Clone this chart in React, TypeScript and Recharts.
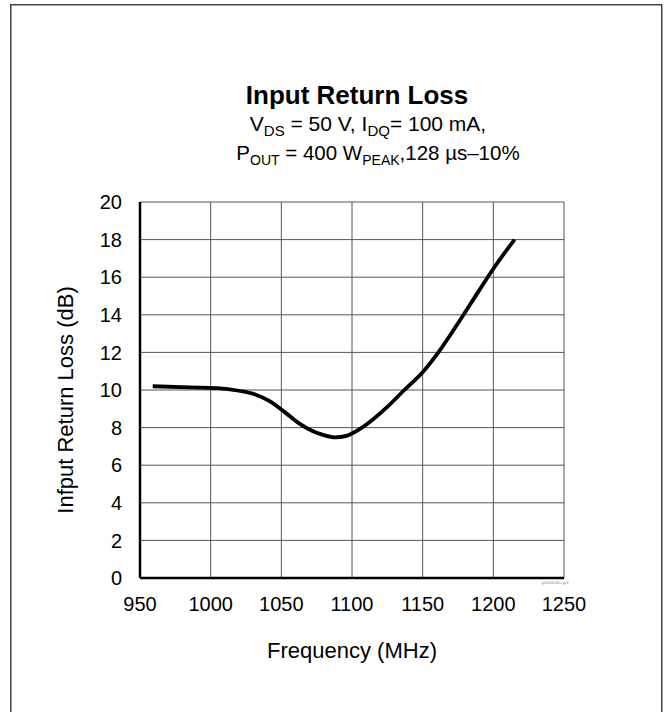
import React from 'react';
import { LineChart, Line, XAxis, YAxis, CartesianGrid } from 'recharts';

const frequency = [959, 985, 1005, 1020, 1032, 1042, 1052, 1062, 1072, 1080, 1088, 1096, 1105, 1115, 1125, 1137, 1150, 1162, 1175, 1190, 1200, 1215];
const returnLoss = [10.2, 10.14, 10.1, 9.96, 9.75, 9.4, 8.85, 8.25, 7.82, 7.6, 7.48, 7.56, 7.9, 8.45, 9.1, 10.0, 10.95, 12.1, 13.55, 15.3, 16.45, 18.0];
const xTicks = [950, 1000, 1050, 1100, 1150, 1200, 1250];
const yTicks = [0, 2, 4, 6, 8, 10, 12, 14, 16, 18, 20];

const data = frequency.map((f, i) => ({ freq: f, loss: returnLoss[i] }));

const FONT = '"Liberation Sans", Arial, sans-serif';

const XTitle = ({ viewBox }: any) => (
  <text x={viewBox.x + viewBox.width / 2} y={viewBox.y + 80} textAnchor="middle"
    fontSize={22} fontFamily={FONT} fill="#000">
    Frequency (MHz)
  </text>
);

const YTitle = ({ viewBox }: any) => {
  const cx = 73;
  const cy = viewBox.y + viewBox.height / 2 + 10;
  return (
    <text x={cx} y={cy} textAnchor="middle" transform={`rotate(-90 ${cx} ${cy})`}
      fontSize={22} fontFamily={FONT} fill="#000">
      Infput Return Loss (dB)
    </text>
  );
};

export default function App() {
  return (
    <div style={{ position: 'absolute', left: 0, top: 0, width: 666, height: 712, background: '#fff', overflow: 'hidden' }}>
      <LineChart width={666} height={712} data={data}
        margin={{ top: 202, right: 102, bottom: 0, left: 0 }}
        style={{ position: 'absolute', left: 0, top: 0 }}>
        <CartesianGrid stroke="#555" strokeWidth={1} />
        <XAxis dataKey="freq" type="number" domain={[950, 1250]} ticks={xTicks}
          height={134} tickLine={false} tickSize={6} tickMargin={13}
          axisLine={{ stroke: '#000', strokeWidth: 2.5 }}
          tick={{ fill: '#000', fontSize: 20, fontFamily: FONT }}
          label={{ content: XTitle }} />
        <YAxis type="number" domain={[0, 20]} ticks={yTicks} width={140}
          tickLine={false} tickSize={6} tickMargin={12}
          axisLine={{ stroke: '#000', strokeWidth: 2.5 }}
          tick={{ fill: '#000', fontSize: 20, fontFamily: FONT }}
          label={{ content: YTitle }} />
        <Line type="monotone" dataKey="loss" stroke="#000" strokeWidth={3.8}
          dot={false} isAnimationActive={false} />
      </LineChart>
      <svg width={666} height={712} style={{ position: 'absolute', left: 0, top: 0, pointerEvents: 'none' }}
        fontFamily={FONT}>
        <rect x={10.75} y={4.75} width={651} height={740} fill="none" stroke="#444" strokeWidth={1.5} />
        <text x={357} y={104} textAnchor="middle" fontSize={26} fontWeight="bold" fill="#000">
          Input Return Loss
        </text>
        <text x={368} y={131} textAnchor="middle" fontSize={21} fill="#000">
          V<tspan fontSize={15} dy={5}>DS</tspan>
          <tspan dy={-5}> = 50 V, I</tspan>
          <tspan fontSize={15} dy={5}>DQ</tspan>
          <tspan dy={-5}>= 100 mA,</tspan>
        </text>
        <text x={378} y={160} textAnchor="middle" fontSize={20.5} fill="#000">
          P<tspan fontSize={14} dy={5}>OUT</tspan>
          <tspan dy={-5}> = 400 W</tspan>
          <tspan fontSize={14} dy={5}>PEAK</tspan>
          <tspan dy={-5}>,128 µs–10%</tspan>
        </text>
        <text x={555} y={584} textAnchor="middle" fontSize={4} fill="#888">g1060016s-gr3</text>
      </svg>
    </div>
  );
}
